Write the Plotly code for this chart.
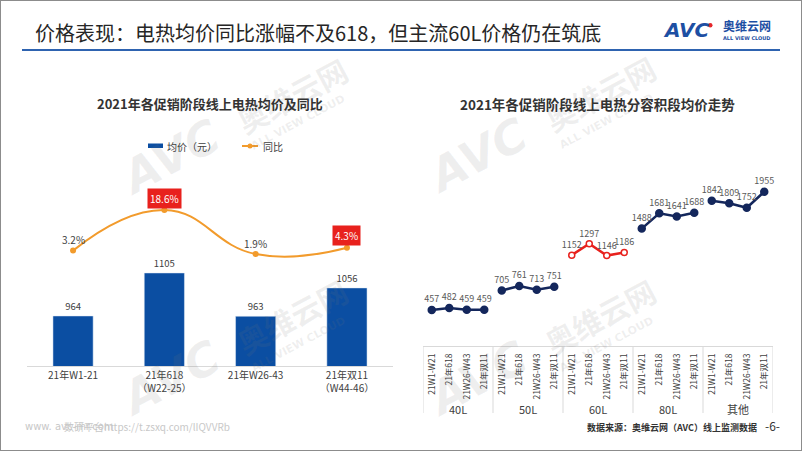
import plotly.graph_objects as go

W, H = 802, 451
FONT = "Noto Sans CJK SC"


def px(x):
    return x / W


def py(y):
    return 1 - y / H


# ---------------- data ----------------
# left chart
periods = ["21年W1-21", "21年618<br>（W22-25）", "21年W26-43", "21年双11<br>（W44-46）"]
avg_price = [964, 1105, 963, 1056]
yoy = [3.2, 18.6, 1.9, 4.3]
yoy_highlight = [False, True, False, True]

# right chart
capacity_groups = ["40L", "50L", "60L", "80L", "其他"]
stages = ["21W1-W21", "21年618", "21W26-W43", "21年双11"]
price_40L = [457, 482, 459, 459]
price_50L = [705, 761, 713, 751]
price_60L = [1152, 1297, 1146, 1186]
price_80L = [1488, 1681, 1641, 1688]
price_other = [1842, 1809, 1752, 1955]
seg_prices = [price_40L, price_50L, price_60L, price_80L, price_other]
highlight_group = "60L"

BLUE = "#0B4EA2"
ORANGE = "#F29B2C"
NAVY = "#14275C"
RED = "#E8211D"
TXT = "#404040"

fig = go.Figure()

# ---- left: bars + yoy line ----
fig.add_trace(go.Bar(
    x=periods, y=avg_price, marker_color=BLUE, width=0.44,
    text=avg_price, textposition="outside", cliponaxis=False,
    textfont=dict(size=9.5, color=TXT, family=FONT),
    xaxis="x", yaxis="y", showlegend=False, hoverinfo="skip",
))
fig.add_trace(go.Scatter(
    x=periods, y=yoy, mode="lines+markers",
    line=dict(color=ORANGE, width=2, shape="spline", smoothing=1.3),
    marker=dict(size=6, color=ORANGE),
    xaxis="x", yaxis="y2", showlegend=False, hoverinfo="skip",
))

annotations = []
for p, v, hl in zip(periods, yoy, yoy_highlight):
    annotations.append(dict(
        x=p, y=v, xref="x", yref="y2", yshift=12 if hl else 11,
        text=f"{v:.1f}%", showarrow=False,
        font=dict(size=10, color="white" if hl else TXT, family=FONT),
        bgcolor=RED if hl else "rgba(0,0,0,0)", borderpad=2,
    ))

# ---- right: segment lines ----
all_cats = []
all_ticktext = []
for gi, (g, vals) in enumerate(zip(capacity_groups, seg_prices)):
    hl = g == highlight_group
    col = RED if hl else NAVY
    cats = [f"{g}|{s}" for s in stages]
    all_cats += cats
    all_ticktext += stages
    fig.add_trace(go.Scatter(
        x=cats, y=vals,
        mode="lines+markers+text", text=vals, textposition="top center",
        textfont=dict(size=9, color="#595959", family=FONT),
        line=dict(color=col, width=2.5),
        marker=dict(size=6 if hl else 7, color="white" if hl else col,
                    line=dict(color=col, width=1.5)),
        xaxis="x3", yaxis="y3", showlegend=False, hoverinfo="skip",
        cliponaxis=False,
    ))

n_st = len(stages)
shapes = []
for gi, g in enumerate(capacity_groups):
    annotations.append(dict(x=gi * n_st + (n_st - 1) / 2, y=py(409), xref="x3", yref="paper",
                            text=g, showarrow=False,
                            font=dict(size=11, color=TXT, family=FONT)))
for k in range(len(capacity_groups) + 1):
    shapes.append(dict(type="line", xref="x3", yref="paper",
                       x0=k * n_st - 0.5, x1=k * n_st - 0.5,
                       y0=py(346.1), y1=py(413),
                       line=dict(color="#d9d9d9", width=1)))

fig.update_layout(
    width=W, height=H, autosize=False,
    margin=dict(l=0, r=0, t=0, b=0),
    paper_bgcolor="white", plot_bgcolor="rgba(0,0,0,0)",
    font=dict(family=FONT, color=TXT),
    xaxis=dict(domain=[px(27.4), px(392.6)], anchor="y", type="category",
               showline=True, linecolor="#d9d9d9", linewidth=1,
               showgrid=False, ticks="", zeroline=False,
               tickfont=dict(size=10, color=TXT, family=FONT)),
    yaxis=dict(domain=[py(366), py(160)], range=[800, 1475.4], visible=False),
    yaxis2=dict(domain=[py(366), py(160)], range=[-40.6, 37.6], visible=False,
                overlaying="y", anchor="x"),
    xaxis3=dict(domain=[px(423), px(773)], anchor="y3", type="category",
                categoryorder="array", categoryarray=all_cats,
                tickvals=all_cats, ticktext=all_ticktext,
                range=[-0.5, len(all_cats) - 0.5],
                showline=True, linecolor="#d9d9d9", linewidth=1,
                showgrid=False, ticks="", tickangle=-90, ticklabelstandoff=3,
                tickfont=dict(size=8.5, color=TXT, family=FONT)),
    yaxis3=dict(domain=[py(346.1), py(170)], range=[0, 2230], visible=False,
                anchor="x3"),
)

# ---- watermarks ----
WM = "rgba(120,120,120,0.12)"
for cx, cy in [(170, 157), (170, 378), (478, 155), (478, 378)]:
    annotations.append(dict(x=px(cx), y=py(cy), xref="paper", yref="paper",
                            text="<b><i>AVC</i></b>", showarrow=False, textangle=-28,
                            font=dict(size=46, color=WM, family="DejaVu Sans")))
    annotations.append(dict(x=px(cx + 122), y=py(cy - 62), xref="paper", yref="paper",
                            text="<b>奥维云网</b>", showarrow=False, textangle=-28,
                            font=dict(size=30, color=WM, family=FONT)))
    annotations.append(dict(x=px(cx + 128), y=py(cy - 34), xref="paper", yref="paper",
                            text="<b>ALL VIEW CLOUD</b>", showarrow=False, textangle=-28,
                            font=dict(size=11, color=WM, family="DejaVu Sans")))

# ---- titles & texts ----
annotations += [
    dict(x=px(33), y=py(33), xref="paper", yref="paper", xanchor="left",
         text="价格表现：电热均价同比涨幅不及618，但主流60L价格仍在筑底",
         showarrow=False, font=dict(size=20, color="#262626", family=FONT)),
    dict(x=px(210), y=py(103), xref="paper", yref="paper",
         text="<b>2021年各促销阶段线上电热均价及同比</b>", showarrow=False,
         font=dict(size=13, color="#333333", family=FONT)),
    dict(x=px(597), y=py(104), xref="paper", yref="paper",
         text="<b>2021年各促销阶段线上电热分容积段均价走势</b>", showarrow=False,
         font=dict(size=13.5, color="#333333", family=FONT)),
    dict(x=px(165), y=py(146), xref="paper", yref="paper", xanchor="left",
         text="均价（元）", showarrow=False, font=dict(size=10, color=TXT, family=FONT)),
    dict(x=px(261), y=py(146), xref="paper", yref="paper", xanchor="left",
         text="同比", showarrow=False, font=dict(size=10, color=TXT, family=FONT)),
    dict(x=px(585), y=py(427), xref="paper", yref="paper", xanchor="left",
         text="<b>数据来源：奥维云网（AVC）线上监测数据</b>", showarrow=False,
         font=dict(size=9, color="#333333", family=FONT)),
    dict(x=px(772), y=py(425), xref="paper", yref="paper",
         text="-6-", showarrow=False, font=dict(size=12, color="#333333", family=FONT)),
    dict(x=px(23), y=py(426), xref="paper", yref="paper", xanchor="left",
         text="www. avc-mr.com", showarrow=False,
         font=dict(size=10, color="#c8c8c8", family="DejaVu Sans")),
    dict(x=px(62), y=py(426), xref="paper", yref="paper", xanchor="left",
         text="数研平台https://t.zsxq.com/lIQVVRb", showarrow=False,
         font=dict(size=10, color="#c8c8c8", family=FONT)),
    # logo
    dict(x=px(686), y=py(30), xref="paper", yref="paper",
         text="<b><i>AVC</i></b>", showarrow=False,
         font=dict(size=20, color="#1D4FA3", family="DejaVu Sans")),
    dict(x=px(747), y=py(26), xref="paper", yref="paper",
         text="<b>奥维云网</b>", showarrow=False,
         font=dict(size=12, color="#1D4FA3", family=FONT)),
    dict(x=px(747), y=py(38.5), xref="paper", yref="paper",
         text="<b>ALL VIEW CLOUD</b>", showarrow=False,
         font=dict(size=5, color="#1D4FA3", family="DejaVu Sans")),
]
for a in annotations:
    a.setdefault("xanchor", "center")
    a.setdefault("yanchor", "middle")
fig.update_layout(annotations=annotations)

shapes += [
    # slide border
    dict(type="rect", xref="paper", yref="paper", x0=0, x1=1, y0=0, y1=1,
         line=dict(color="#8c8c8c", width=2)),
    # title rule
    dict(type="line", xref="paper", yref="paper", x0=px(22), x1=px(780),
         y0=py(50), y1=py(50), line=dict(color="#2E63B0", width=2)),
    # legend items
    dict(type="rect", xref="paper", yref="paper", x0=px(148), x1=px(163),
         y0=py(148), y1=py(143.5), fillcolor=BLUE, line=dict(width=0)),
    dict(type="line", xref="paper", yref="paper", x0=px(242), x1=px(258),
         y0=py(146), y1=py(146), line=dict(color=ORANGE, width=2)),
    dict(type="circle", xref="paper", yref="paper", x0=px(247.5), x1=px(252.5),
         y0=py(148.5), y1=py(143.5), fillcolor=ORANGE, line=dict(width=0)),
    # logo dot
    dict(type="circle", xref="paper", yref="paper", x0=px(708), x1=px(712.5),
         y0=py(27.5), y1=py(23), fillcolor="#E5262B", line=dict(width=0)),
]
fig.update_layout(shapes=shapes)

fig.write_html(
    "out.html",
    config={"displayModeBar": False},
    post_script="document.body.style.margin='0';document.body.style.overflow='hidden';",
)
